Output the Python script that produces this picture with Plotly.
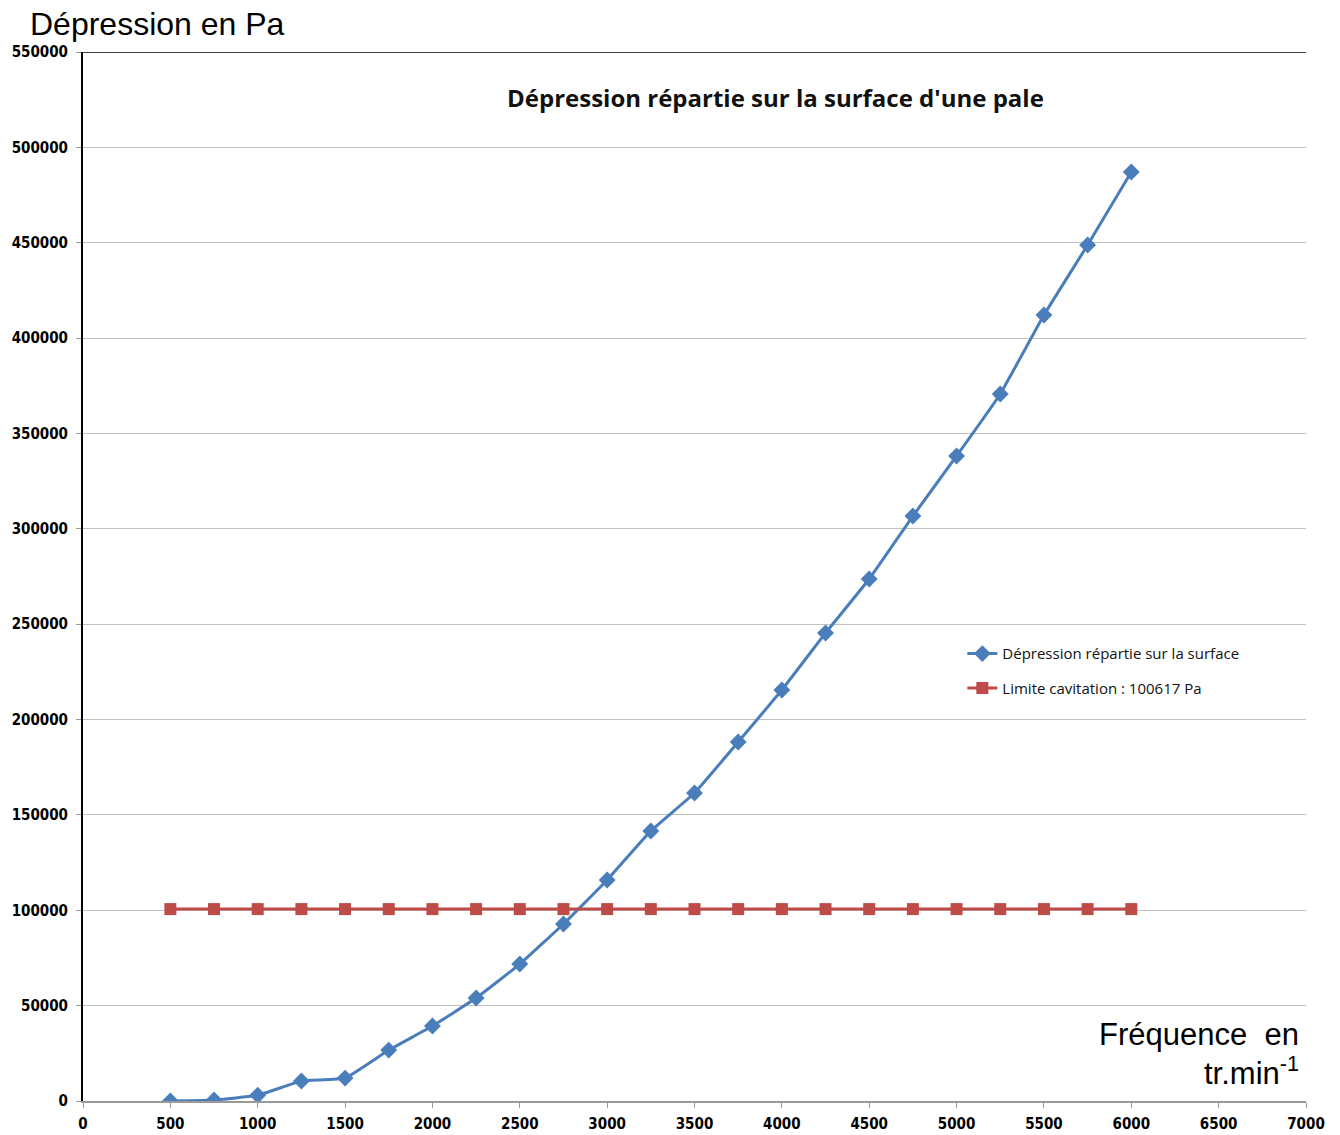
import plotly.graph_objects as go

freq = [500, 750, 1000, 1250, 1500, 1750, 2000, 2250, 2500, 2750, 3000, 3250,
        3500, 3750, 4000, 4250, 4500, 4750, 5000, 5250, 5500, 5750, 6000]
depression = [0, 500, 3000, 10500, 12000, 26700, 39300, 54000, 71800, 92800, 115900, 141600,
              161500, 188200, 215500, 245400, 273700, 306700, 338200, 370700, 412100, 448800, 487100]
limite = [100617] * len(freq)

name_dep = "Dépression répartie sur la surface"
name_lim = "Limite cavitation : 100617 Pa"
title = "Dépression répartie sur la surface d'une pale"
y_title = "Dépression en Pa"
x_title_1 = "Fréquence  en"
x_title_2 = "tr.min<sup>-1</sup>"

x_ticks = list(range(0, 7001, 500))
y_ticks = list(range(0, 550001, 50000))

tick_font = dict(family="Liberation Sans Narrow, DejaVu Sans Condensed, Arial Narrow, sans-serif",
                 size=15, color="#000000", weight="bold")

fig = go.Figure()
fig.add_trace(go.Scatter(
    x=freq, y=depression, mode="lines+markers", name=name_dep, legendgroup="a",
    line=dict(color="#4a7ebb", width=3, shape="spline", smoothing=0.3),
    marker=dict(symbol="diamond", size=13, color="#4a7ebb"),
))
fig.add_trace(go.Scatter(
    x=freq, y=limite, mode="lines+markers", name=name_lim, legendgroup="b",
    line=dict(color="#be4b48", width=3),
    marker=dict(symbol="square", size=12, color="#be4b48"),
))

fig.update_layout(
    width=1340, height=1135,
    margin=dict(l=83, r=34, t=52, b=34),
    paper_bgcolor="white", plot_bgcolor="white",
    showlegend=True,
    legend=dict(x=0.719, y=0.442, xanchor="left", yanchor="top",
                traceorder="grouped", tracegroupgap=12,
                font=dict(family="Open Sans, Lato, sans-serif", size=15, color="#111111"),
                bgcolor="rgba(0,0,0,0)"),
    xaxis=dict(range=[0, 7000], tickvals=x_ticks, ticktext=[str(v) for v in x_ticks],
               showgrid=False, showline=True, linecolor="#999999", linewidth=1.5,
               ticks="outside", ticklen=5, tickcolor="#999999", tickfont=tick_font,
               ticklabelstandoff=3,
               zeroline=False, fixedrange=True, automargin=False),
    yaxis=dict(range=[0, 550000], tickvals=y_ticks, ticktext=[str(v) for v in y_ticks],
               showgrid=True, gridcolor="#c0c0c0", gridwidth=1.2,
               showline=True, linecolor="#000000", linewidth=2,
               ticks="outside", ticklen=5, tickcolor="#999999", tickfont=tick_font,
               ticklabelstandoff=5,
               zeroline=False, fixedrange=True, automargin=False),
    shapes=[dict(type="line", xref="paper", yref="y", x0=0, x1=1, y0=550000, y1=550000,
                 line=dict(color="#000000", width=1.5))],
    annotations=[
        dict(text=title, xref="paper", yref="paper", x=0.566, y=0.957, xanchor="center",
             yanchor="middle", showarrow=False,
             font=dict(family="Open Sans, Lato, sans-serif", size=24, color="#111111", weight="bold")),
        dict(text=y_title, xref="paper", yref="paper", x=-0.045, y=1.0, xanchor="left",
             yanchor="bottom", yshift=8, showarrow=False,
             font=dict(family="Liberation Sans, Arial, sans-serif", size=32, color="#000000")),
        dict(text=x_title_1, xref="paper", yref="paper", x=0.996, y=0.063, xanchor="right",
             yanchor="middle", showarrow=False,
             font=dict(family="Liberation Sans, Arial, sans-serif", size=31, color="#000000")),
        dict(text=x_title_2, xref="paper", yref="paper", x=0.996, y=0.029, xanchor="right",
             yanchor="middle", showarrow=False,
             font=dict(family="Liberation Sans, Arial, sans-serif", size=31, color="#000000")),
    ],
)

fig.write_html("out.html", config={"displayModeBar": False},
               post_script="document.body.style.margin='0';document.body.style.overflow='hidden';")
